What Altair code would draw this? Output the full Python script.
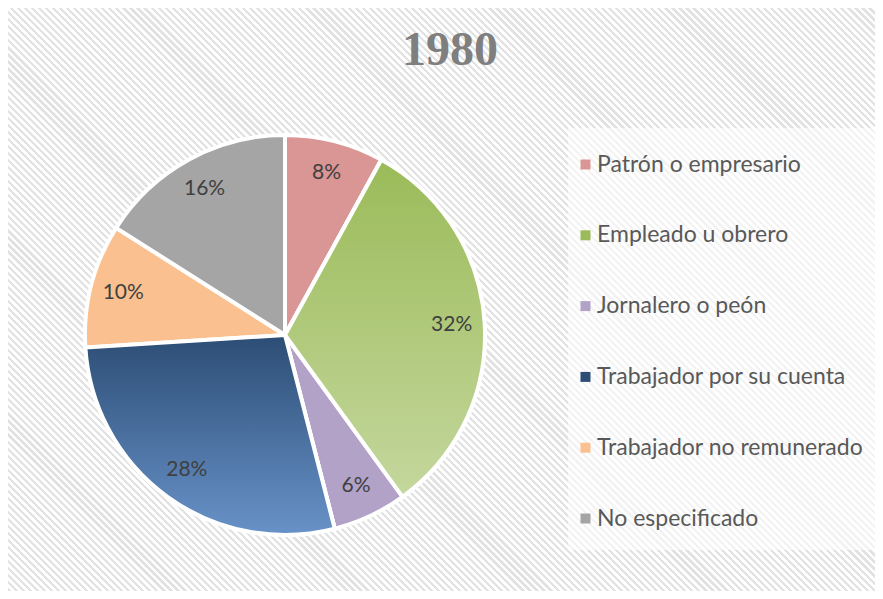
import math
import altair as alt
import pandas as pd

# ---- data ----
categories = ["Patrón o empresario", "Empleado u obrero", "Jornalero o peón",
              "Trabajador por su cuenta", "Trabajador no remunerado", "No especificado"]
values = [8, 32, 6, 28, 10, 16]
colors = ["#D99694", "#9BBB59", "#B3A2C7", "#2C4D75", "#FAC090", "#A5A5A5"]
title_text = "1980"

W, H = 867, 583
CX, CY, R = 277, 327, 200

df = pd.DataFrame({"cat": categories, "value": values, "order": list(range(len(values)))})

# ---- background stripes (diagonal hatch) ----
period = 5.0
L = (W + H) / math.sqrt(2)
n = int(L / period) + 1
stops = []
for i in range(n):
    a = i / n
    b = (i + 0.45) / n
    c = (i + 1) / n
    stops += [alt.GradientStop(offset=a, color="#E2E2E2"),
              alt.GradientStop(offset=b, color="#E2E2E2"),
              alt.GradientStop(offset=b, color="#FFFFFF"),
              alt.GradientStop(offset=c, color="#FFFFFF")]
k = (W + H) / (W + H * H / W)
bg_grad = alt.LinearGradient(gradient="linear", x1=0, y1=1, x2=k, y2=1 - k * H / W, stops=stops)

bg = alt.Chart(pd.DataFrame({"d": [0]})).mark_rect(color=bg_grad).encode(
    x=alt.value(0), x2=alt.value(W), y=alt.value(0), y2=alt.value(H)
)

legend_box = alt.Chart(pd.DataFrame({"d": [0]})).mark_rect(
    color="#FFFFFF", opacity=0.6
).encode(x=alt.value(560), x2=alt.value(872), y=alt.value(120), y2=alt.value(542))

base = alt.Chart(df).transform_window(
    cum="sum(value)", sort=[alt.SortField("order")], frame=[None, 0]
).transform_joinaggregate(total="sum(value)").transform_calculate(
    t0="(datum.cum - datum.value) / datum.total",
    t1="datum.cum / datum.total",
    tm="(datum.cum - datum.value / 2) / datum.total",
    label="format(datum.value, 'd') + '%'",
)

theta_scale = alt.Scale(domain=[0, 1], range=[0, 2 * math.pi])

arcs = base.mark_arc(outerRadius=R, stroke="white", strokeWidth=4).encode(
    x=alt.value(CX), y=alt.value(CY),
    theta=alt.Theta("t0:Q", scale=theta_scale), theta2="t1:Q",
    color=alt.Color("cat:N", scale=alt.Scale(domain=categories, range=colors),
                    legend=alt.Legend(title=None)),
)

def grad_layer(cat, top, bottom):
    g = alt.LinearGradient(gradient="linear", x1=0, y1=0, x2=0, y2=1,
                           stops=[alt.GradientStop(offset=0, color=top),
                                  alt.GradientStop(offset=1, color=bottom)])
    return base.transform_filter(alt.datum.cat == cat).mark_arc(
        outerRadius=R, stroke="white", strokeWidth=4, color=g
    ).encode(
        x=alt.value(CX), y=alt.value(CY),
        theta=alt.Theta("t0:Q", scale=theta_scale), theta2="t1:Q",
    )

green = grad_layer(categories[1], "#9BBB59", "#C4D79D")
blue = grad_layer(categories[3], "#2C4D75", "#6892C8")

labels = base.mark_text(radius=167, font="Lato", fontSize=21, color="#404040").encode(
    x=alt.value(CX), y=alt.value(CY),
    theta=alt.Theta("tm:Q", scale=theta_scale),
    text="label:N",
)

title = alt.Chart(pd.DataFrame({"t": [title_text]})).mark_text(
    font="Liberation Serif", fontSize=48, fontWeight="bold", color="#7F7F7F", baseline="alphabetic"
).encode(x=alt.value(442), y=alt.value(57), text="t:N")

chart = alt.layer(bg, legend_box, arcs, green, blue, labels, title).properties(
    width=W, height=H, padding=0, autosize=alt.AutoSizeParams(type="none")
).configure_view(stroke="#D0D0D0", strokeWidth=1).configure_legend(
    orient="none", legendX=566, legendY=145,
    symbolType="square", symbolSize=100, symbolStrokeWidth=0,
    labelFont="Lato", labelFontSize=23, labelColor="#595959", labelOffset=0,
    rowPadding=46.8, padding=0, labelLimit=400,
)

chart.save("out.html", embed_options={"renderer": "svg", "actions": False})
